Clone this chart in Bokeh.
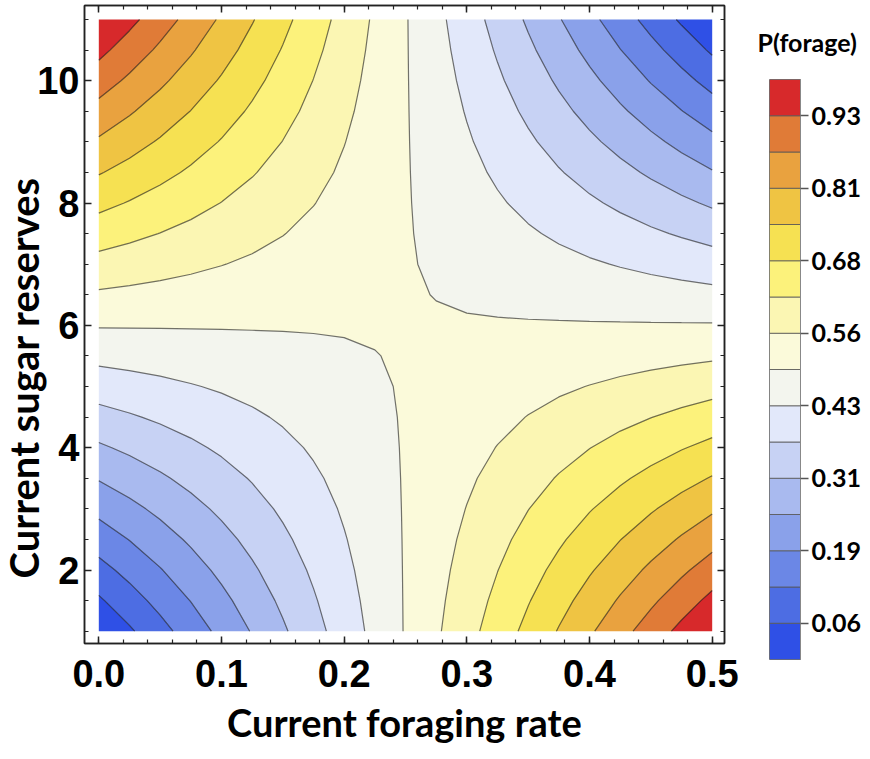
import numpy as np
from bokeh.plotting import figure
from bokeh.layouts import row
from bokeh.models import (Range1d, LinearAxis, SingleIntervalTicker, FixedTicker,
                          PrintfTickFormatter, CustomLabelingPolicy)
from bokeh.embed import file_html
from bokeh.resources import INLINE

# ---- data ----
foraging_rate = [0.0, 0.025, 0.05, 0.075, 0.1, 0.125, 0.15, 0.175, 0.2, 0.225, 0.25,
                 0.275, 0.3, 0.325, 0.35, 0.375, 0.4, 0.425, 0.45, 0.475, 0.5]
sugar_reserves = [1.0, 1.5, 2.0, 2.5, 3.0, 3.5, 4.0, 4.5, 5.0, 5.5, 6.0,
                  6.5, 7.0, 7.5, 8.0, 8.5, 9.0, 9.5, 10.0, 10.5, 11.0]
# P(forage), one row per sugar reserve level (bottom to top), columns = foraging rate
p_forage = [
    [0.004, 0.054, 0.104, 0.154, 0.204, 0.254, 0.304, 0.354, 0.404, 0.454, 0.504, 0.554, 0.604, 0.654, 0.704, 0.754, 0.804, 0.854, 0.904, 0.954, 0.998],
    [0.054, 0.099, 0.144, 0.189, 0.234, 0.279, 0.324, 0.369, 0.414, 0.459, 0.504, 0.549, 0.594, 0.639, 0.684, 0.729, 0.774, 0.819, 0.864, 0.909, 0.954],
    [0.104, 0.144, 0.184, 0.224, 0.264, 0.304, 0.344, 0.384, 0.424, 0.464, 0.504, 0.544, 0.584, 0.624, 0.664, 0.704, 0.744, 0.784, 0.824, 0.864, 0.904],
    [0.154, 0.189, 0.224, 0.259, 0.294, 0.329, 0.364, 0.399, 0.434, 0.469, 0.504, 0.539, 0.574, 0.609, 0.644, 0.679, 0.714, 0.749, 0.784, 0.819, 0.854],
    [0.204, 0.234, 0.264, 0.294, 0.324, 0.354, 0.384, 0.414, 0.444, 0.474, 0.504, 0.534, 0.564, 0.594, 0.624, 0.654, 0.684, 0.714, 0.744, 0.774, 0.804],
    [0.254, 0.279, 0.304, 0.329, 0.354, 0.379, 0.404, 0.429, 0.454, 0.479, 0.504, 0.529, 0.554, 0.579, 0.604, 0.629, 0.654, 0.679, 0.704, 0.729, 0.754],
    [0.304, 0.324, 0.344, 0.364, 0.384, 0.404, 0.424, 0.444, 0.464, 0.484, 0.504, 0.524, 0.544, 0.564, 0.584, 0.604, 0.624, 0.644, 0.664, 0.684, 0.704],
    [0.354, 0.369, 0.384, 0.399, 0.414, 0.429, 0.444, 0.459, 0.474, 0.489, 0.504, 0.519, 0.534, 0.549, 0.564, 0.579, 0.594, 0.609, 0.624, 0.639, 0.654],
    [0.404, 0.414, 0.424, 0.434, 0.444, 0.454, 0.464, 0.474, 0.484, 0.494, 0.504, 0.514, 0.524, 0.534, 0.544, 0.554, 0.564, 0.574, 0.584, 0.594, 0.604],
    [0.454, 0.459, 0.464, 0.469, 0.474, 0.479, 0.484, 0.489, 0.494, 0.499, 0.504, 0.509, 0.514, 0.519, 0.524, 0.529, 0.534, 0.539, 0.544, 0.549, 0.554],
    [0.504, 0.504, 0.504, 0.504, 0.504, 0.504, 0.504, 0.504, 0.504, 0.504, 0.504, 0.504, 0.504, 0.504, 0.504, 0.504, 0.504, 0.504, 0.504, 0.504, 0.504],
    [0.554, 0.549, 0.544, 0.539, 0.534, 0.529, 0.524, 0.519, 0.514, 0.509, 0.504, 0.499, 0.494, 0.489, 0.484, 0.479, 0.474, 0.469, 0.464, 0.459, 0.454],
    [0.604, 0.594, 0.584, 0.574, 0.564, 0.554, 0.544, 0.534, 0.524, 0.514, 0.504, 0.494, 0.484, 0.474, 0.464, 0.454, 0.444, 0.434, 0.424, 0.414, 0.404],
    [0.654, 0.639, 0.624, 0.609, 0.594, 0.579, 0.564, 0.549, 0.534, 0.519, 0.504, 0.489, 0.474, 0.459, 0.444, 0.429, 0.414, 0.399, 0.384, 0.369, 0.354],
    [0.704, 0.684, 0.664, 0.644, 0.624, 0.604, 0.584, 0.564, 0.544, 0.524, 0.504, 0.484, 0.464, 0.444, 0.424, 0.404, 0.384, 0.364, 0.344, 0.324, 0.304],
    [0.754, 0.729, 0.704, 0.679, 0.654, 0.629, 0.604, 0.579, 0.554, 0.529, 0.504, 0.479, 0.454, 0.429, 0.404, 0.379, 0.354, 0.329, 0.304, 0.279, 0.254],
    [0.804, 0.774, 0.744, 0.714, 0.684, 0.654, 0.624, 0.594, 0.564, 0.534, 0.504, 0.474, 0.444, 0.414, 0.384, 0.354, 0.324, 0.294, 0.264, 0.234, 0.204],
    [0.854, 0.819, 0.784, 0.749, 0.714, 0.679, 0.644, 0.609, 0.574, 0.539, 0.504, 0.469, 0.434, 0.399, 0.364, 0.329, 0.294, 0.259, 0.224, 0.189, 0.154],
    [0.904, 0.864, 0.824, 0.784, 0.744, 0.704, 0.664, 0.624, 0.584, 0.544, 0.504, 0.464, 0.424, 0.384, 0.344, 0.304, 0.264, 0.224, 0.184, 0.144, 0.104],
    [0.954, 0.909, 0.864, 0.819, 0.774, 0.729, 0.684, 0.639, 0.594, 0.549, 0.504, 0.459, 0.414, 0.369, 0.324, 0.279, 0.234, 0.189, 0.144, 0.099, 0.054],
    [0.998, 0.954, 0.904, 0.854, 0.804, 0.754, 0.704, 0.654, 0.604, 0.554, 0.504, 0.454, 0.404, 0.354, 0.304, 0.254, 0.204, 0.154, 0.104, 0.054, 0.004],
]

levels = [0.0, 0.0625, 0.125, 0.1875, 0.25, 0.3125, 0.375, 0.4375, 0.5,
          0.5625, 0.625, 0.6875, 0.75, 0.8125, 0.875, 0.9375, 1.0]
band_colors = ["#2F50E6", "#4D6DE3", "#6B87E6", "#8AA1EA", "#A9BAEF", "#C7D2F4",
               "#E2E8FA", "#F3F5EE", "#FBFADA", "#FBF6B3", "#FCF27B", "#F6E152",
               "#EFC443", "#E9A23F", "#E07B37", "#D7292B"]
colorbar_ticks = [0.0625, 0.1875, 0.3125, 0.4375, 0.5625, 0.6875, 0.8125, 0.9375]
colorbar_tick_labels = ["0.06", "0.19", "0.31", "0.43", "0.56", "0.68", "0.81", "0.93"]

x_title = "Current foraging rate"
y_title = "Current sugar reserves"
cb_title = "P(forage)"

FRAME_COLOR = "#222222"

# ---- main contour figure ----
p = figure(width=745, height=759, output_backend="svg", toolbar_location=None,
           title=y_title, title_location="left",
           x_range=Range1d(-0.01166, 0.51003), y_range=Range1d(0.799, 11.229),
           x_axis_type=None, y_axis_type=None,
           min_border_left=84, min_border_right=21, min_border_top=5, min_border_bottom=116)
p.frame_align = False
p.background_fill_color = "white"
p.border_fill_color = "white"
p.outline_line_color = FRAME_COLOR
p.outline_line_width = 1.5

# y-axis title (drawn as the plot title on the left so it can sit where the original has it)
p.title.text_font = "Lato"
p.title.text_font_style = "bold"
p.title.text_font_size = "40px"
p.title.text_color = "black"
p.title.align = "left"
p.title.vertical_align = "top"
p.title.offset = 65
p.title.standoff = -31

p.contour(x=np.array(foraging_rate), y=np.array(sugar_reserves), z=np.array(p_forage),
          levels=levels, fill_color=band_colors,
          line_color="black", line_alpha=0.55, line_width=1.2)

tick_font = "Liberation Sans"

def style_axis(ax, show_labels):
    ax.axis_line_color = FRAME_COLOR
    ax.axis_line_width = 1.5
    ax.major_tick_line_color = FRAME_COLOR
    ax.major_tick_line_width = 1.5
    ax.minor_tick_line_color = FRAME_COLOR
    ax.minor_tick_line_width = 1.2
    ax.major_tick_in = 7
    ax.major_tick_out = 0
    ax.minor_tick_in = 4
    ax.minor_tick_out = 0
    if show_labels:
        ax.major_label_text_font = tick_font
        ax.major_label_text_font_style = "bold"
        ax.major_label_text_font_size = "38px"
        ax.major_label_text_color = "black"
        ax.axis_label_text_font = "Lato"
        ax.axis_label_text_font_style = "bold"
        ax.axis_label_text_color = "black"
    else:
        ax.major_label_policy = CustomLabelingPolicy(code="for (const i of indices) indices.unset(i)")
        ax.major_label_text_font_size = "0px"
        ax.major_label_standoff = 0

xb = LinearAxis(ticker=SingleIntervalTicker(interval=0.1, num_minor_ticks=5),
                formatter=PrintfTickFormatter(format="%.1f"), axis_label=x_title)
style_axis(xb, True)
xb.major_label_standoff = 16
xb.axis_label_standoff = 9
xb.axis_label_text_font_size = "38px"
p.add_layout(xb, "below")

yl = LinearAxis(ticker=SingleIntervalTicker(interval=2, num_minor_ticks=4),
                formatter=PrintfTickFormatter(format="%d"))
style_axis(yl, True)
yl.major_label_standoff = 5
p.add_layout(yl, "left")

xt = LinearAxis(ticker=SingleIntervalTicker(interval=0.1, num_minor_ticks=5))
style_axis(xt, False)
p.add_layout(xt, "above")

yr = LinearAxis(ticker=SingleIntervalTicker(interval=2, num_minor_ticks=4))
style_axis(yr, False)
p.add_layout(yr, "right")

# ---- colour bar figure (bands drawn from the same levels / colours) ----
cbf = figure(width=125, height=759, output_backend="svg", toolbar_location=None,
             title=cb_title,
             x_range=Range1d(0, 1), y_range=Range1d(levels[0], levels[-1]),
             x_axis_type=None, y_axis_type=None,
             min_border_left=24, min_border_right=70, min_border_top=79, min_border_bottom=100)
cbf.frame_align = False
cbf.background_fill_color = "white"
cbf.border_fill_color = "white"
cbf.outline_line_color = "#888888"
cbf.outline_line_width = 1
cbf.quad(left=0, right=1, bottom=levels[:-1], top=levels[1:], fill_color=band_colors,
         line_color="#555555", line_width=1, line_alpha=0.8)

cax = LinearAxis(ticker=FixedTicker(ticks=colorbar_ticks, minor_ticks=[]),
                 major_label_overrides={t: s for t, s in zip(colorbar_ticks, colorbar_tick_labels)})
cax.axis_line_color = "#888888"
cax.major_tick_line_color = "#555555"
cax.major_tick_line_width = 1.3
cax.major_tick_in = 0
cax.major_tick_out = 8
cax.minor_tick_line_color = None
cax.major_label_standoff = 3
cax.major_label_text_font = "Lato"
cax.major_label_text_font_style = "bold"
cax.major_label_text_font_size = "25px"
cax.major_label_text_color = "black"
cbf.add_layout(cax, "right")

cbf.title.text_font = "Lato"
cbf.title.text_font_style = "bold"
cbf.title.text_font_size = "25px"
cbf.title.text_color = "black"
cbf.title.align = "left"
cbf.title.vertical_align = "top"
cbf.title.offset = -12
cbf.title.standoff = 41

layout = row(p, cbf, spacing=0)
open("out.html", "w").write(file_html(layout, INLINE))
